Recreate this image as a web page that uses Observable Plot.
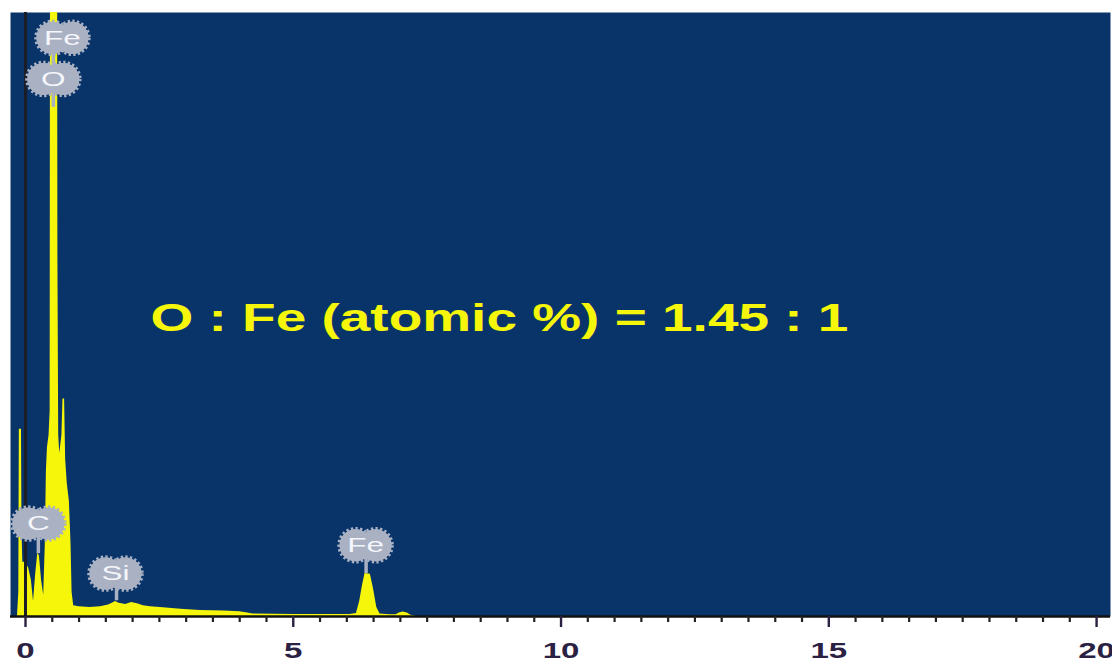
<!DOCTYPE html>
<html>
<head>
<meta charset="utf-8">
<script src="https://cdn.jsdelivr.net/npm/d3@7"></script>
<script src="https://cdn.jsdelivr.net/npm/@observablehq/plot@0.6"></script>
<style>
  html, body { margin: 0; padding: 0; background: #ffffff; }
  #chart { width: 1112px; height: 664px; }
</style>
</head>
<body>
<div id="chart"></div>
<script>
// EDS spectrum: energy (keV) and counts (arbitrary units, full scale = 100)
const energy = [
  -0.28, -0.15, -0.125, -0.115, -0.075, -0.065, -0.05, 0.00, 0.06, 0.11, 0.15, 0.19,
  0.23, 0.26, 0.30, 0.34, 0.37, 0.39, 0.41, 0.44, 0.46, 0.475, 0.59, 0.605,
  0.62, 0.64, 0.68, 0.70, 0.73, 0.75, 0.78, 0.82, 0.85, 0.87, 0.90, 1.00,
  1.20, 1.40, 1.55, 1.62, 1.68, 1.75, 1.87, 1.98, 2.09, 2.20, 2.33, 2.52,
  2.90, 3.26, 3.70, 4.00, 4.15, 4.25, 5.00, 5.80, 6.06, 6.18, 6.24, 6.29,
  6.34, 6.44, 6.50, 6.56, 6.62, 6.80, 6.92, 6.98, 7.05, 7.13, 7.20, 7.30,
  10.0, 20.26
];
const counts = [
  0, 0, 4, 31, 31, 14, 9, 9, 8, 6, 2.5, 7,
  10.5, 10, 6, 3.5, 12, 24, 28, 30, 34, 200, 200, 60,
  30, 27, 30, 36, 36, 26, 22, 19, 12, 4, 1.8, 1.6,
  1.5, 1.6, 1.9, 2.2, 2.5, 2.2, 2.0, 2.3, 2.1, 1.8, 1.6, 1.5,
  1.2, 1.0, 0.9, 0.8, 0.6, 0.4, 0.35, 0.35, 0.35, 0.5, 2.5, 5,
  7.1, 7.0, 4.5, 1.5, 0.4, 0.3, 0.3, 0.6, 0.75, 0.6, 0.2, 0,
  0, 0
];
const spectrum = energy.map((e, i) => ({energy: e, counts: counts[i]}));

// Element markers
const labelText   = ["Fe", "O", "C", "Si", "Fe"];
const peakEnergy  = [0.52, 0.52, 0.24, 1.70, 6.36];
const labelEnergy = [0.69, 0.52, 0.24, 1.68, 6.35];
const labelLevel  = [95.8, 89.0, 15.4, 7.1, 11.8];
const tipLevel    = [89.0, 84.3, 10.4, 2.6, 7.1];
const markers = labelText.map((t, i) => ({
  text: t, peak: peakEnergy[i], x: labelEnergy[i], y: labelLevel[i], tip: tipLevel[i]
}));

// Axis ticks
const majorTicks = [0, 5, 10, 15, 20];
const minorTicks = d3.range(0, 20.01, 0.5).filter(v => v % 5 !== 0);

const annotation = ["O : Fe (atomic %) = 1.45 : 1"];

const blue = "#08346a";
const yellow = "#f6f60a";
const gray = "#a9b1c3";

// capsule-shaped marker with serrated edge built from two overlapping dots
const blobParts = [-10, 10];

const chart = Plot.plot({
  width: 1112,
  height: 664,
  marginLeft: 10,
  marginRight: 2,
  marginTop: 12,
  marginBottom: 48,
  style: {background: "#ffffff", fontFamily: "'Liberation Sans', Arial, sans-serif"},
  x: {domain: [-0.28, 20.26]},
  y: {domain: [0, 100], axis: null},
  marks: [
    Plot.frame({fill: blue}),
    Plot.areaY(spectrum, {x: "energy", y: "counts", fill: yellow, clip: true}),
    Plot.ruleX([0], {stroke: "#1b1e27", strokeWidth: 3}),
    Plot.ruleY([0], {stroke: "#111111", strokeWidth: 2.5}),
    Plot.axisX({ticks: minorTicks, tickSize: 6, tickFormat: () => "", stroke: "#222222", strokeWidth: 2.2}),
    Plot.axisX({ticks: majorTicks, tickSize: 11, tickPadding: 15, tickFormat: d3.format("d"),
      color: "#2b2142", strokeWidth: 2.4, fontSize: 22, fontWeight: "bold", label: null}),
    Plot.ruleX(markers, {x: "peak", y1: "tip", y2: "y", stroke: gray, strokeWidth: 3.5}),
    ...blobParts.map(dx => Plot.dot(markers, {x: "x", y: "y", r: 16, dx,
      fill: gray, stroke: gray, strokeWidth: 4.5, strokeDasharray: "2.2 2.2"})),
    ...blobParts.map(dx => Plot.dot(markers, {x: "x", y: "y", r: 16, dx, fill: gray})),
    Plot.text(markers, {x: "x", y: "y", text: "text", fill: "#f4f6fb", fontSize: 21}),
    Plot.text(annotation, {x: 8.85, y: 49.3, text: d => d, fill: yellow,
      fontSize: 39, fontWeight: "bold"})
  ]
});

document.getElementById("chart").appendChild(chart);

// The lettering in this figure is set wide: stretch each label horizontally
const widen = 1.5;
d3.select(chart).selectAll("text").each(function () {
  const t = this.textContent;
  if (!t) return;
  const len = this.getComputedTextLength();
  const target = t === annotation[0] ? 698 : len * widen;
  this.setAttribute("textLength", target);
  this.setAttribute("lengthAdjust", "spacingAndGlyphs");
});
</script>
</body>
</html>
